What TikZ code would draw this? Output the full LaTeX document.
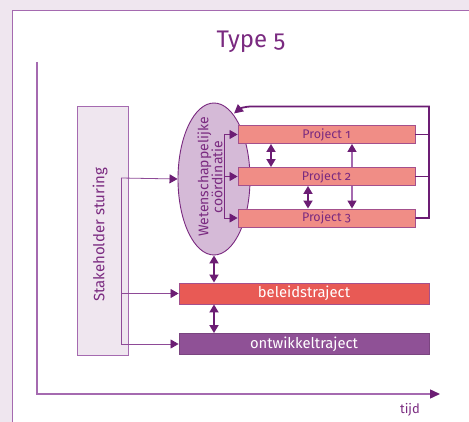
\documentclass[tikz,border=0pt]{standalone}
\usepackage{fontspec}
\setmainfont{Fira Sans}[Numbers=OldStyle]
\usetikzlibrary{arrows.meta,shapes.geometric}

\definecolor{pageback}{HTML}{EFE6EF}
\definecolor{framepurple}{HTML}{A56AB0}
\definecolor{darkpurple}{HTML}{6C1D74}
\definecolor{textpurple}{HTML}{7A2A80}
\definecolor{linepurple}{HTML}{8E4A97}
\definecolor{ellfill}{HTML}{D5BAD7}
\definecolor{projfill}{HTML}{F08D86}
\definecolor{projborder}{HTML}{A4508C}
\definecolor{belfill}{HTML}{E85A55}
\definecolor{ontfill}{HTML}{8F5196}

\tikzset{
  ptip/.tip={Triangle[length=8pt,width=9pt,color=darkpurple]},
  projbox/.style={draw=projborder, line width=0.9pt, fill=projfill,
    minimum width=177pt, minimum height=18pt, inner sep=0pt,
    text=textpurple, font=\fontsize{12.5}{13}\selectfont},
  trackbox/.style={line width=0.9pt, minimum width=250pt, minimum height=21pt,
    inner sep=0pt, text=white, font=\fontsize{14.8}{16}\selectfont},
  thinlink/.style={draw=linepurple, line width=0.8pt},
  thicklink/.style={draw=darkpurple, line width=1.8pt},
  softlink/.style={draw=framepurple, line width=1.3pt},
}

\begin{document}
\begin{tikzpicture}[x=1pt,y=-1pt]
\useasboundingbox (0,0) rectangle (469,422);
% page background and white panel
\fill[pageback] (0,0) rectangle (469,422);
\fill[white] (12.5,10.5) rectangle (469,422);
\draw[framepurple, line width=1.3pt] (12.5,422) -- (12.5,10.5) -- (469,10.5);

% title
\node[text=textpurple, font=\fontsize{24}{28}\selectfont] (title) at (251,42) {Type 5};

% time axis
\coordinate (ytop) at (37,62);
\coordinate (origin) at (37,394);
\coordinate (xend) at (440,394);
\draw[framepurple, line width=1.4pt, -{Triangle[length=10pt,width=9pt,color=darkpurple]}]
  (ytop) -- (origin) -- (xend);
\node[text=textpurple, font=\fontsize{13}{15}\selectfont] (tijd) at (410,410) {tijd};

% stakeholder column
\node[draw=framepurple, line width=0.9pt, fill=pageback, minimum width=51pt,
  minimum height=249pt, inner sep=0pt] (stake) at (102.5,230.5) {};
\node[rotate=90, text=textpurple, font=\fontsize{15}{17}\selectfont] (staketext) at (100,235)
  {Stakeholder sturing};

% scientific coordination
\node[ellipse, draw=textpurple, line width=0.9pt, fill=ellfill, minimum width=72pt,
  minimum height=152pt, inner sep=0pt] (coord) at (214,179) {};
\node[rotate=90, text=textpurple, align=center, font=\fontsize{14}{14}\selectfont]
  (coordtext) at (210,177) {Wetenschappelijke\\coördinatie};

% projects
\node[projbox] (p1) at (326.5,134.5) {Project 1};
\node[projbox] (p2) at (326.5,176.5) {Project 2};
\node[projbox] (p3) at (326.5,218) {Project 3};

% tracks
\node[trackbox, draw=projborder, fill=belfill] (bel) at (304,293.5) {beleidstraject};
\node[trackbox, draw=ontfill!85!black, fill=ontfill] (ont) at (304,344) {ontwikkeltraject};

% stakeholder connectors
\coordinate (s1) at (121,178);
\coordinate (s3) at (121,344);
\draw[thinlink] (s1) -- (s3);
\draw[thinlink, -ptip] (s1) -- (coord.west);
\draw[thinlink, -ptip] (s1 |- bel.west) -- (bel.west);
\draw[thinlink, -ptip] (s3) -- (ont.west);

% coordination to projects
\coordinate (b1) at (224,134.5);
\coordinate (b3) at (224,218);
\draw[thinlink, draw=textpurple] (b1) -- (b3);
\draw[thinlink, draw=textpurple, -ptip] (b1) -- (p1.west);
\draw[thinlink, draw=textpurple, -ptip] (b1 |- p2.west) -- (p2.west);
\draw[thinlink, draw=textpurple, -ptip] (b3) -- (p3.west);

% feedback from projects to coordination
\coordinate (f1) at (429,134.5);
\coordinate (f3) at (429,218);
\coordinate (ftop) at (429,106.5);
\draw[thicklink] (p1.east) -- (f1);
\draw[thicklink] (p2.east) -- (f1 |- p2.east);
\draw[thicklink, -{Triangle[length=9pt,width=9pt,color=darkpurple]}]
  (p3.east) -- (f3) -- (ftop) -- (252,106.5) to[out=180,in=40] (234,113.5);

% exchanges between projects
\draw[thicklink, ptip-ptip] (p1.south -| 271,0) -- (p2.north -| 271,0);
\draw[thicklink, ptip-ptip] (p2.south -| 308,0) -- (p3.north -| 308,0);
\draw[softlink, ptip-] (p1.south -| 352,0) -- (p2.north -| 352,0);
\draw[softlink, -ptip] (p2.south -| 352,0) -- (p3.north -| 352,0);

% exchanges between coordination and tracks
\draw[thicklink, ptip-ptip] (coord.south) -- (bel.north -| coord.south);
\draw[thicklink, ptip-ptip] (bel.south -| coord.south) -- (ont.north -| coord.south);
\end{tikzpicture}
\end{document}
